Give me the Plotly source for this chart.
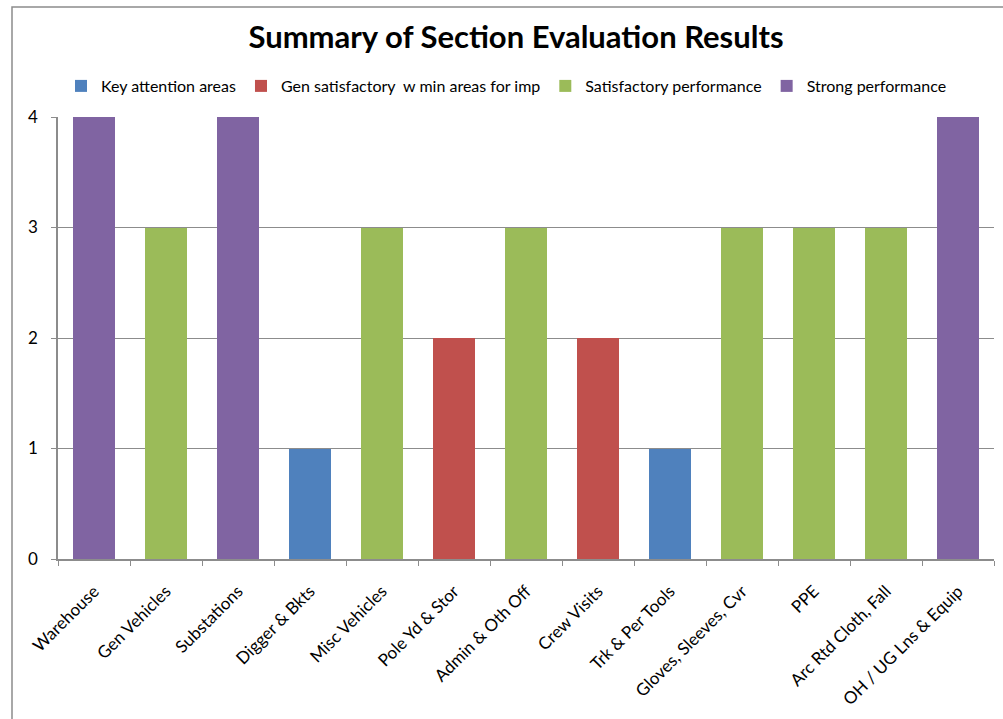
import plotly.graph_objects as go

categories = ["Warehouse", "Gen Vehicles", "Substations", "Digger & Bkts", "Misc Vehicles",
              "Pole Yd & Stor", "Admin & Oth Off", "Crew Visits", "Trk & Per Tools",
              "Gloves, Sleeves, Cvr", "PPE", "Arc Rtd Cloth, Fall", "OH / UG Lns & Equip"]
key_attention = [None, None, None, 1, None, None, None, None, 1, None, None, None, None]
gen_satisfactory = [None, None, None, None, None, 2, None, 2, None, None, None, None, None]
satisfactory = [None, 3, None, None, 3, None, 3, None, None, 3, 3, 3, None]
strong = [4, None, 4, None, None, None, None, None, None, None, None, None, 4]

series = [
    ("Key attention areas", key_attention, "#4F81BD"),
    ("Gen satisfactory  w min areas for imp", gen_satisfactory, "#C0504D"),
    ("Satisfactory performance", satisfactory, "#9BBB59"),
    ("Strong performance", strong, "#8064A2"),
]

FONT = "Lato"
fig = go.Figure()
for name, vals, color in series:
    fig.add_trace(go.Bar(x=categories, y=vals, name=name, marker_color=color,
                         marker_line_width=0))

W, H = 1003, 719
L, R, T, B = 58, 9, 117, 160
pw, ph = W - L - R, H - T - B

fig.update_layout(
    width=W, height=H,
    margin=dict(l=L, r=R, t=T, b=B),
    barmode="stack", bargap=0.43,
    plot_bgcolor="white", paper_bgcolor="white",
    font=dict(family=FONT, color="black"),
    title=dict(text="<b>Summary of Section Evaluation Results</b>",
               x=516 / W, xanchor="center", y=1 - 37 / H, yanchor="middle",
               font=dict(size=31, family=FONT, color="black")),
    legend=dict(orientation="h", x=(61 - L) / pw, xanchor="left",
                y=1 + (T - 86) / ph, yanchor="middle",
                font=dict(size=16, family=FONT), traceorder="normal",
                itemwidth=30),
    showlegend=True,
    xaxis=dict(tickangle=-45, tickfont=dict(size=17, family=FONT),
               showline=True, linecolor="#8c8c8c", linewidth=1.5,
               ticks="outside", tickson="boundaries", ticklen=5, tickcolor="#8c8c8c",
               ticklabelstandoff=14, showgrid=False),
    yaxis=dict(range=[0, 4], dtick=1, tickfont=dict(size=17, family=FONT),
               showline=True, linecolor="#8c8c8c", linewidth=1.5,
               ticks="outside", ticklen=5, tickcolor="#8c8c8c",
               ticklabelstandoff=10,
               showgrid=True, gridcolor="#8c8c8c", gridwidth=1,
               zeroline=False),
    shapes=[dict(type="rect", xref="paper", yref="paper",
                 x0=(12 - L) / pw, x1=(1010 - L) / pw,
                 y0=-(B + 20) / ph, y1=1 + (T - 7) / ph,
                 line=dict(color="#8c8c8c", width=1.5), layer="below")],
)

fig.write_html("out.html", config={"displayModeBar": False},
               post_script="document.body.style.margin='0';document.body.style.overflow='hidden';")
